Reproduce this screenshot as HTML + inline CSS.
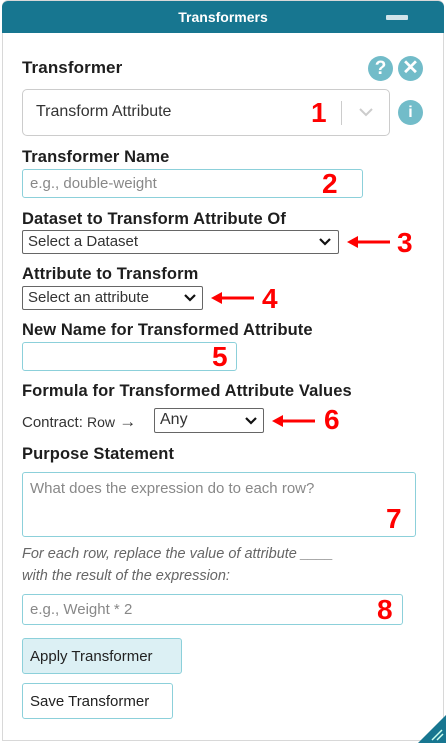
<!DOCTYPE html><html><head><style>
body{margin:0;width:446px;height:743px;background:#fff;position:relative;overflow:hidden;font-family:"Liberation Sans",sans-serif;color:#222;}
.a{position:absolute;white-space:nowrap;}
.lbl{font-size:16.5px;font-weight:bold;color:#1e1e1e;letter-spacing:0.1px}
.box{position:absolute;box-sizing:border-box;}
.tin{border:1.5px solid #8cd0da;border-radius:3px;background:#fff}
.sel{border:1.5px solid #666;border-radius:2px;background:#fff}
.num{position:absolute;color:#f00;font-weight:bold;font-size:28px;line-height:1}
.ph{color:#888;font-size:15px}
</style></head><body>
<div class="box" style="left:2px;top:0;width:442px;height:741px;border:1px solid #d8d8d8;border-radius:6px 6px 0 0"></div>
<div class="box" style="left:2px;top:1px;width:442px;height:32px;background:#177690;border-radius:6px 6px 0 0"></div>
<div class="a" style="left:0;width:446px;text-align:center;top:9px;color:#fff;font-size:14px;font-weight:bold">Transformers</div>
<div class="box" style="left:386px;top:15px;width:22px;height:5px;background:#d0e4ea;border-radius:1px"></div>

<div class="a lbl" style="left:22px;top:58px;font-size:17px">Transformer</div>
<div class="box" style="left:368px;top:56px;width:25px;height:25px;border-radius:50%;background:#72bcc9;color:#fff;font-weight:bold;font-size:19px;text-align:center;line-height:25px">?</div>
<div class="box" style="left:398px;top:56px;width:25px;height:25px;border-radius:50%;background:#72bcc9;color:#fff;font-weight:bold;font-size:20px;text-align:center;line-height:24px">✕</div>
<div class="box" style="left:22px;top:89px;width:368px;height:47px;border:1px solid #ccc;border-radius:5px"></div>
<div class="a" style="left:36px;top:103px;font-size:16px;color:#333">Transform Attribute</div>
<div class="num" style="left:311px;top:99px">1</div>
<div class="box" style="left:341px;top:101px;width:1px;height:24px;background:#ccc"></div>
<svg class="a" style="left:358px;top:107px" width="16" height="10"><polyline points="2,2 8,8 14,2" fill="none" stroke="#ccc" stroke-width="2"/></svg>
<div class="box" style="left:398px;top:100px;width:25px;height:25px;border-radius:50%;background:#72bcc9;color:#fff;font-weight:bold;font-size:16px;text-align:center;line-height:25px">i</div>

<div class="a lbl" style="left:22px;top:148px">Transformer Name</div>
<div class="box tin" style="left:22px;top:169px;width:341px;height:29px"></div>
<div class="a ph" style="left:30px;top:175px">e.g., double-weight</div>
<div class="num" style="left:322px;top:170px">2</div>

<div class="a lbl" style="left:22px;top:210px">Dataset to Transform Attribute Of</div>
<div class="box sel" style="left:22px;top:230px;width:317px;height:24px"></div>
<div class="a" style="left:28px;top:233px;font-size:15px;color:#333">Select a Dataset</div>
<svg class="a" style="left:319px;top:238px" width="12" height="8"><polyline points="1,1 6,6 11,1" fill="none" stroke="#111" stroke-width="2.2"/></svg>
<svg class="a" style="left:346px;top:234px" width="46" height="16"><line x1="10" y1="8" x2="44" y2="8" stroke="#f00" stroke-width="3"/><polygon points="1,8 12,2 12,14" fill="#f00"/></svg>
<div class="num" style="left:397px;top:229px">3</div>

<div class="a lbl" style="left:22px;top:265px">Attribute to Transform</div>
<div class="box sel" style="left:22px;top:286px;width:181px;height:24px"></div>
<div class="a" style="left:28px;top:289px;font-size:15px;color:#333">Select an attribute</div>
<svg class="a" style="left:184px;top:294px" width="12" height="8"><polyline points="1,1 6,6 11,1" fill="none" stroke="#111" stroke-width="2.2"/></svg>
<svg class="a" style="left:210px;top:290px" width="46" height="16"><line x1="10" y1="8" x2="44" y2="8" stroke="#f00" stroke-width="3"/><polygon points="1,8 12,2 12,14" fill="#f00"/></svg>
<div class="num" style="left:262px;top:285px">4</div>

<div class="a lbl" style="left:22px;top:321px">New Name for Transformed Attribute</div>
<div class="box tin" style="left:22px;top:342px;width:215px;height:29px"></div>
<div class="num" style="left:212px;top:343px">5</div>

<div class="a lbl" style="left:22px;top:382px">Formula for Transformed Attribute Values</div>
<div class="a" style="left:22px;top:412px;font-size:15px;color:#333">Contract: <span style="font-size:14px">Row</span> <span style="font-size:17px">→</span></div>
<div class="box sel" style="left:154px;top:408px;width:110px;height:25px"></div>
<div class="a" style="left:160px;top:411px;font-size:16px;color:#333">Any</div>
<svg class="a" style="left:245px;top:417px" width="12" height="8"><polyline points="1,1 6,6 11,1" fill="none" stroke="#111" stroke-width="2.2"/></svg>
<svg class="a" style="left:271px;top:413px" width="46" height="16"><line x1="10" y1="8" x2="44" y2="8" stroke="#f00" stroke-width="3"/><polygon points="1,8 12,2 12,14" fill="#f00"/></svg>
<div class="num" style="left:324px;top:406px">6</div>

<div class="a lbl" style="left:22px;top:445px">Purpose Statement</div>
<div class="box tin" style="left:22px;top:472px;width:394px;height:65px"></div>
<div class="a ph" style="left:30px;top:480px">What does the expression do to each row?</div>
<div class="num" style="left:386px;top:505px">7</div>

<div class="a" style="left:22px;top:546px;font-size:14.5px;font-style:italic;color:#666">For each row, replace the value of attribute ____</div>
<div class="a" style="left:22px;top:568px;font-size:14.5px;font-style:italic;color:#666">with the result of the expression:</div>
<div class="box tin" style="left:22px;top:594px;width:381px;height:31px"></div>
<div class="a ph" style="left:30px;top:601px">e.g., Weight * 2</div>
<div class="num" style="left:377px;top:596px">8</div>

<div class="box" style="left:22px;top:638px;width:160px;height:36px;background:#dcf0f4;border:1.5px solid #8cd0da;border-radius:3px"></div>
<div class="a" style="left:30px;top:648px;font-size:15px;color:#222">Apply Transformer</div>
<div class="box" style="left:22px;top:683px;width:151px;height:36px;background:#fff;border:1.5px solid #8cd0da;border-radius:3px"></div>
<div class="a" style="left:30px;top:693px;font-size:15px;color:#222">Save Transformer</div>

<svg class="a" style="left:418px;top:715px" width="28" height="28"><polygon points="28,0 28,28 0,28" fill="#177690"/><line x1="14" y1="25" x2="24" y2="15" stroke="#cfe" stroke-width="1.5"/><line x1="19" y1="25" x2="25" y2="19" stroke="#cfe" stroke-width="1.5"/></svg>
</body></html>
